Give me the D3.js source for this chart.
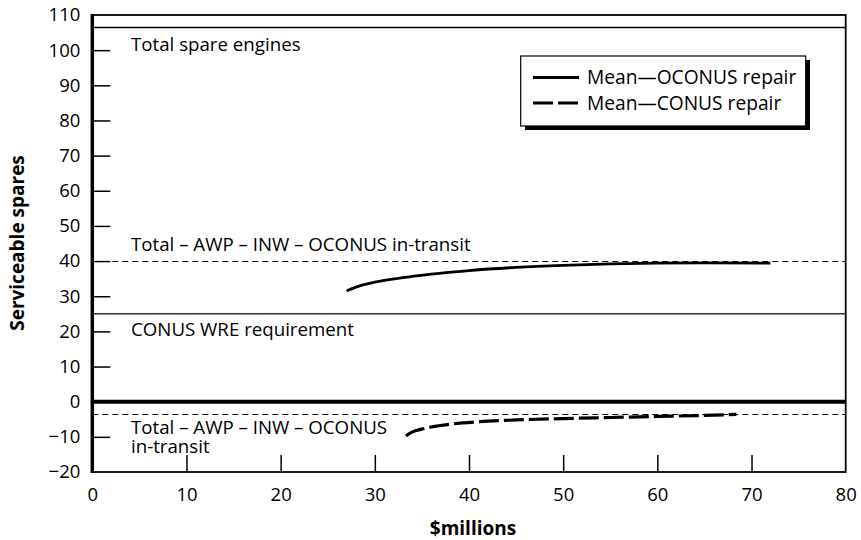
<!DOCTYPE html>
<html><head><meta charset="utf-8">
<script src="https://cdn.jsdelivr.net/npm/d3@7"></script>
<style>
body{margin:0;background:#fff;}
text{font-family:"Open Sans","Noto Sans",sans-serif;fill:#000;}
</style></head>
<body><svg id="c" width="861" height="540"></svg>
<script>
// Data
const xTicks = [0,10,20,30,40,50,60,70,80];
const yTicks = [-20,-10,0,10,20,30,40,50,60,70,80,90,100,110];
const oconusX = [27,28,30,33,36,40,45,50,55,60,65,72];
const oconusY = [31.5,32.6,34.0,35.3,36.3,37.3,38.2,38.8,39.2,39.4,39.5,39.4];
const conusX = [33.3,34,35,36,38,41,45,50,55,60,65,68.4];
const conusY = [-9.7,-8.6,-7.8,-7.2,-6.4,-5.7,-5.2,-4.8,-4.5,-4.2,-3.9,-3.6];
const refValues = [106.5,40,25,0,-3.5];
const legendLabels = ["Mean—OCONUS repair","Mean—CONUS repair"];

const svg = d3.select("#c");
const x = d3.scaleLinear().domain([0,80]).range([92.3,845.7]);
const y = d3.scaleLinear().domain([-20,110]).range([472,15]);

// frame
svg.append("rect").attr("x",x(0)).attr("y",y(110)).attr("width",x(80)-x(0)).attr("height",y(-20)-y(110))
  .attr("fill","none").attr("stroke","#000").attr("stroke-width",1.8);

// reference lines
const refStyle = [
  {w:1.3,dash:null,c:"#000"},
  {w:1,dash:"6,4",c:"#000"},
  {w:1.6,dash:null,c:"#333"},
  {w:4,dash:null,c:"#000"},
  {w:1,dash:"6,4",c:"#000"}
];
refValues.forEach((v,i)=>{
  const yy = refStyle[i].w<=1.3 ? Math.round(y(v))+0.5 : y(v);
  svg.append("line").attr("x1",x(0)).attr("x2",x(80)).attr("y1",yy).attr("y2",yy)
    .attr("stroke",refStyle[i].c).attr("stroke-width",refStyle[i].w)
    .attr("stroke-dasharray",refStyle[i].dash);
});

const tfs = 18.5;
// axes
const yAxis = d3.axisLeft(y).tickValues(yTicks).tickSizeInner(-18).tickSizeOuter(0).tickPadding(12)
  .tickFormat(d=>d<0?"\u2212"+Math.abs(d):d);
const gy = svg.append("g").attr("transform",`translate(${x(0)},0)`).call(yAxis);
gy.select(".domain").remove();
gy.selectAll(".tick line").attr("stroke","#000").attr("stroke-width",1.5)
  .filter(d=>d===110||d===-20).remove();
gy.selectAll(".tick text").attr("font-size",tfs).attr("fill","#000").attr("font-family",null);

const xAxis = d3.axisBottom(x).tickValues(xTicks).tickSizeInner(-17).tickSizeOuter(0).tickPadding(16);
const gx = svg.append("g").attr("transform",`translate(0,${y(-20)})`).call(xAxis);
gx.select(".domain").remove();
gx.selectAll(".tick line").attr("stroke","#000").attr("stroke-width",1.5)
  .filter(d=>d===0||d===80).remove();
gx.selectAll(".tick text").attr("font-size",tfs).attr("fill","#000").attr("font-family",null);

// left axis thick
svg.append("line").attr("x1",x(0)).attr("x2",x(0)).attr("y1",y(110)-1).attr("y2",y(-20)+1)
  .attr("stroke","#000").attr("stroke-width",3.5);

// curves
const line = d3.line().x(d=>x(d[0])).y(d=>y(d[1])).curve(d3.curveMonotoneX);
svg.append("path").datum(oconusX.map((v,i)=>[v,oconusY[i]])).attr("d",line)
  .attr("fill","none").attr("stroke","#000").attr("stroke-width",2.8);
svg.append("path").datum(conusX.map((v,i)=>[v,conusY[i]])).attr("d",line)
  .attr("fill","none").attr("stroke","#000").attr("stroke-width",3.2).attr("stroke-dasharray","20,5");

// annotations
const fs = 18.7;
svg.append("text").attr("x",131).attr("y",51).attr("font-size",fs).text("Total spare engines");
svg.append("text").attr("x",131).attr("y",251).attr("font-size",fs).text("Total – AWP – INW – OCONUS in-transit");
svg.append("text").attr("x",131).attr("y",336).attr("font-size",fs).text("CONUS WRE requirement");
const t2 = svg.append("text").attr("x",131).attr("y",433.5).attr("font-size",fs);
t2.append("tspan").attr("x",131).text("Total – AWP – INW – OCONUS");
t2.append("tspan").attr("x",131).attr("dy",19.2).text("in-transit");

// axis titles
svg.append("text").attr("transform","translate(24,243) rotate(-90)").attr("text-anchor","middle")
  .attr("font-size",19).attr("font-weight","bold").text("Serviceable spares");
svg.append("text").attr("x",(x(0)+x(80))/2+4).attr("y",535).attr("text-anchor","middle")
  .attr("font-size",19).attr("font-weight","bold").text("$millions");

// legend
const lg = svg.append("g");
lg.append("rect").attr("x",525).attr("y",60).attr("width",285).attr("height",70).attr("fill","#000");
lg.append("rect").attr("x",520.7).attr("y",56).attr("width",285).attr("height",70)
  .attr("fill","#fff").attr("stroke","#000").attr("stroke-width",1.2);
const dashes = [null,"20,5"];
legendLabels.forEach((t,i)=>{
  const yy = 77.5 + i*25.5;
  lg.append("line").attr("x1",533).attr("x2",579).attr("y1",yy).attr("y2",yy)
    .attr("stroke","#000").attr("stroke-width",3).attr("stroke-dasharray",dashes[i]);
  lg.append("text").attr("x",587).attr("y",yy).attr("dy","0.35em").attr("font-size",19.2).text(t);
});
</script></body></html>
